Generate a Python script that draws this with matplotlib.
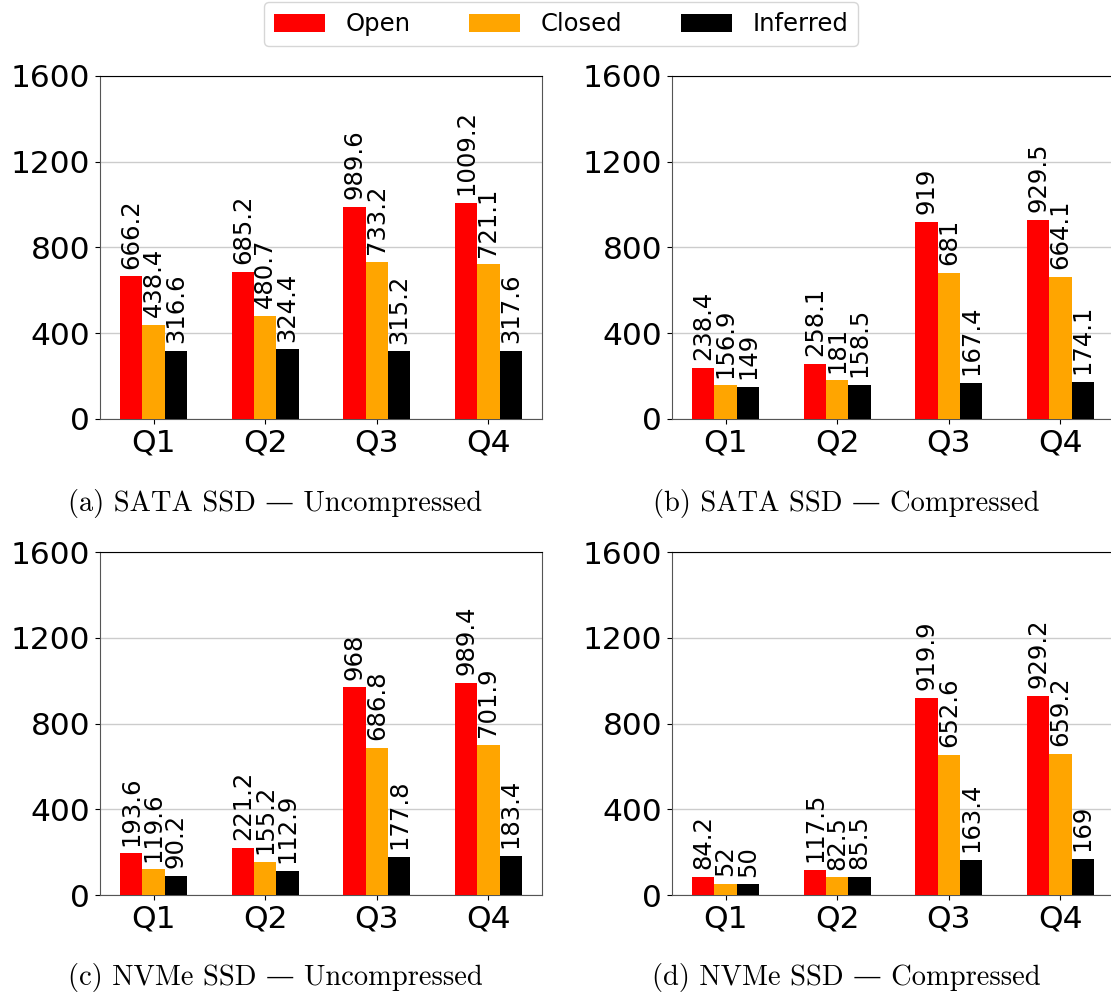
import numpy as np
import matplotlib
matplotlib.use("Agg")
import matplotlib.pyplot as plt

# Data
queries = ["Q1", "Q2", "Q3", "Q4"]
series_names = ["Open", "Closed", "Inferred"]
colors = ["#ff0000", "#ffa500", "#000000"]

sata_uncomp_open = [666.2, 685.2, 989.6, 1009.2]
sata_uncomp_closed = [438.4, 480.7, 733.2, 721.1]
sata_uncomp_inferred = [316.6, 324.4, 315.2, 317.6]

sata_comp_open = [238.4, 258.1, 919, 929.5]
sata_comp_closed = [156.9, 181, 681, 664.1]
sata_comp_inferred = [149, 158.5, 167.4, 174.1]

nvme_uncomp_open = [193.6, 221.2, 968, 989.4]
nvme_uncomp_closed = [119.6, 155.2, 686.8, 701.9]
nvme_uncomp_inferred = [90.2, 112.9, 177.8, 183.4]

nvme_comp_open = [84.2, 117.5, 919.9, 929.2]
nvme_comp_closed = [52, 82.5, 652.6, 659.2]
nvme_comp_inferred = [50, 85.5, 163.4, 169]

captions = [
    "(a) SATA SSD — Uncompressed",
    "(b) SATA SSD — Compressed",
    "(c) NVMe SSD — Uncompressed",
    "(d) NVMe SSD — Compressed",
]

panels = [
    [sata_uncomp_open, sata_uncomp_closed, sata_uncomp_inferred],
    [sata_comp_open, sata_comp_closed, sata_comp_inferred],
    [nvme_uncomp_open, nvme_uncomp_closed, nvme_uncomp_inferred],
    [nvme_comp_open, nvme_comp_closed, nvme_comp_inferred],
]

W, H = 1111, 997
fig = plt.figure(figsize=(W / 100, H / 100), dpi=100)

# axes boxes in pixels: left, top
boxes = [(100, 76), (672, 76), (100, 552), (672, 552)]
ax_w, ax_h = 442, 343
caption_pos = [(275, 503), (846, 503), (275, 977), (846, 977)]

x = np.arange(len(queries))
bw = 0.2

for i, (data, (left, top)) in enumerate(zip(panels, boxes)):
    ax = fig.add_axes([left / W, 1 - (top + ax_h) / H, ax_w / W, ax_h / H])
    for j, vals in enumerate(data):
        bars = ax.bar(x + (j - 1) * bw, vals, bw, color=colors[j],
                      label=series_names[j], zorder=3)
        ax.bar_label(bars, rotation=90, padding=5.5, fontsize=17.5)
    ax.set_ylim(0, 1600)
    ax.set_yticks([0, 400, 800, 1200, 1600])
    ax.set_xticks(x)
    ax.set_xticklabels(queries)
    ax.tick_params(labelsize=22.5)
    ax.grid(axis="y", color="#cccccc", linewidth=1, zorder=0)
    ax.set_axisbelow(True)
    for s in ["left", "bottom", "right"]:
        ax.spines[s].set_color("#555555")
    fig.text(caption_pos[i][0] / W, 1 - caption_pos[i][1] / H, captions[i],
             ha="center", va="center", fontsize=20.5,
             family=["cmr10", "DejaVu Serif"])
    if i == 0:
        handles, labels = ax.get_legend_handles_labels()

fig.legend(handles, labels, loc="upper center", bbox_to_anchor=(0.505, 1.0),
           ncol=3, fontsize=17.5, handlelength=2.1, handleheight=0.75,
           handletextpad=0.85, columnspacing=2.4, borderaxespad=0.1)

fig.savefig("out.png", dpi=100)
